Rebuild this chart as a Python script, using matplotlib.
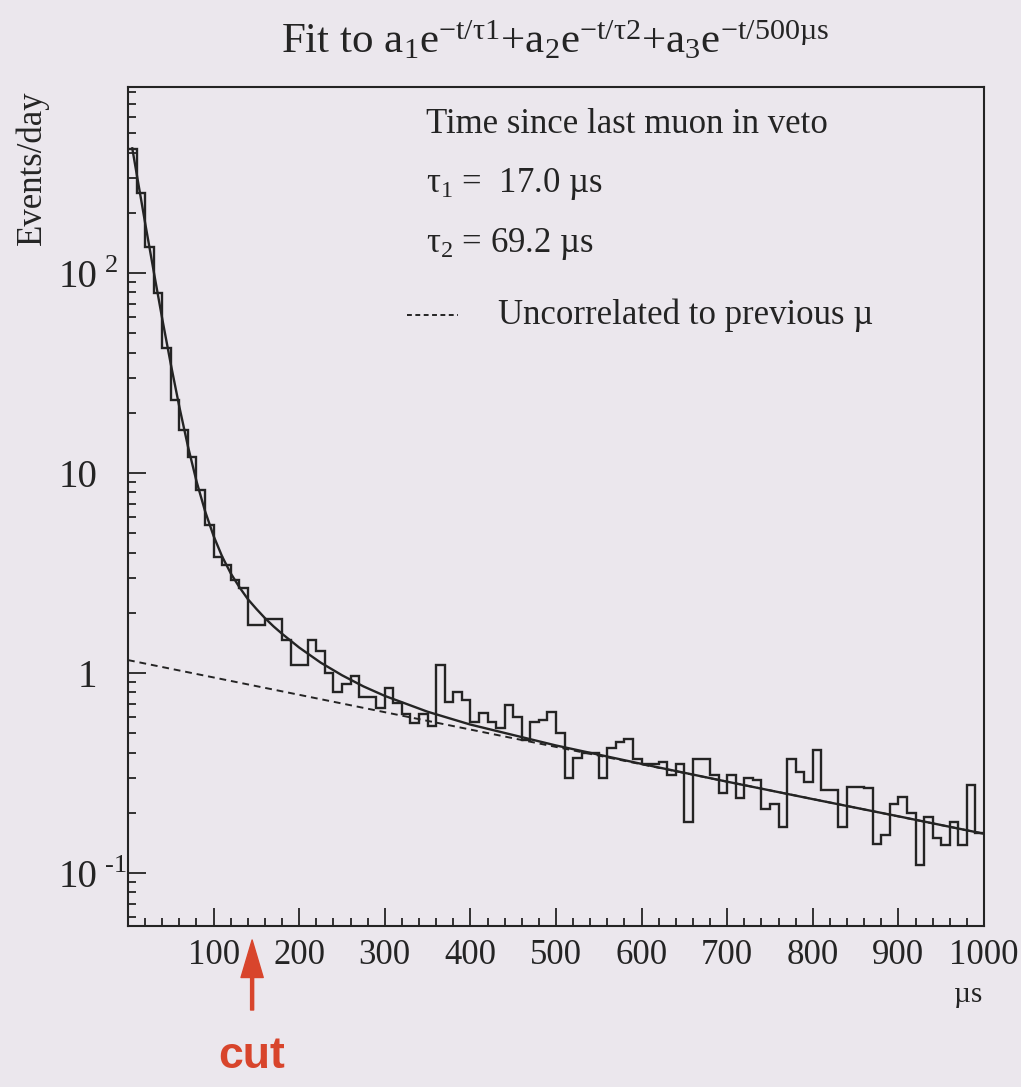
import matplotlib
matplotlib.use('Agg')
import matplotlib.pyplot as plt
import matplotlib.transforms as mtransforms
from matplotlib.ticker import FixedLocator, FixedFormatter, LogLocator, NullFormatter
import numpy as np

matplotlib.rcParams['font.family'] = 'Liberation Serif'
matplotlib.rcParams['mathtext.fontset'] = 'custom'
matplotlib.rcParams['mathtext.rm'] = 'Liberation Serif'
matplotlib.rcParams['mathtext.it'] = 'Liberation Serif:italic'
matplotlib.rcParams['mathtext.default'] = 'rm'

# histogram, 10 us bins from 0 to 1000 us (events/day)
bin_edges = np.arange(0, 1001, 10)
counts = [415, 250, 135, 79, 42, 23.3, 16.4, 12.0, 8.2, 5.5,
          3.8, 3.47, 2.92, 2.66, 1.74, 1.74, 1.86, 1.86, 1.46, 1.10,
          1.10, 1.46, 1.29, 1.00, 0.80, 0.88, 0.97, 0.76, 0.76, 0.67,
          0.84, 0.71, 0.62, 0.56, 0.62, 0.54, 1.10, 0.72, 0.80, 0.73,
          0.57, 0.63, 0.57, 0.53, 0.69, 0.60, 0.46, 0.57, 0.58, 0.64,
          0.50, 0.30, 0.376, 0.40, 0.40, 0.30, 0.42, 0.45, 0.47, 0.37,
          0.35, 0.35, 0.36, 0.31, 0.35, 0.18, 0.37, 0.37, 0.31, 0.25,
          0.31, 0.237, 0.30, 0.29, 0.21, 0.22, 0.17, 0.37, 0.32, 0.285,
          0.41, 0.26, 0.26, 0.17, 0.27, 0.27, 0.265, 0.14, 0.155, 0.22,
          0.24, 0.20, 0.11, 0.19, 0.15, 0.138, 0.18, 0.138, 0.275, 0.158]

# fitted curve
fit_t = [5, 10, 15, 20, 30, 40, 50, 60, 70, 80, 90, 100, 110, 120, 130,
         140, 150, 160, 170, 180, 200, 225, 250, 275, 300, 350, 400, 500,
         600, 700, 800, 900, 1000]
fit_y = [420, 315, 237, 178, 102, 59.0, 35.0, 21.4, 13.6, 9.1, 6.45, 4.84,
         3.82, 3.15, 2.69, 2.34, 2.09, 1.88, 1.71, 1.57, 1.34, 1.127, 0.974,
         0.857, 0.768, 0.640, 0.552, 0.434, 0.351, 0.286, 0.234, 0.192, 0.157]

# uncorrelated component (straight on log scale)
flat_t = [0, 1000]
flat_y = [1.16, 0.157]

cut_t = 145

ytick_vals = [0.1, 1, 10, 100]
ytick_text = ['10', '1', '10', '10']
ytick_exp = {0.1: '-1', 100: '2'}

bg = '#ebe7ed'
ink = '#242424'
red = '#d8452c'

fig = plt.figure(figsize=(10.21, 10.87), dpi=100, facecolor=bg)
ax = fig.add_axes([128 / 1021, 1 - 926 / 1087, (984 - 128) / 1021, (926 - 87) / 1087])
ax.set_facecolor(bg)

ax.stairs(counts, bin_edges, baseline=None, color=ink, lw=1.7)
ax.plot(fit_t, fit_y, color=ink, lw=1.7, zorder=3)
ax.plot(flat_t, flat_y, color=ink, lw=1.4, ls=(0, (3.5, 2.5)), zorder=3)

ax.set_yscale('log')
ax.set_xlim(0, 1000)
ax.set_ylim(0.0543, 851)

for s in ax.spines.values():
    s.set_linewidth(1.5)
    s.set_color(ink)

ax.set_xticks(np.arange(100, 1001, 100))
ax.set_xticks(np.arange(0, 1001, 20), minor=True)
ax.yaxis.set_major_locator(FixedLocator(ytick_vals))
ax.yaxis.set_major_formatter(FixedFormatter(ytick_text))
ax.yaxis.set_minor_locator(LogLocator(subs=np.arange(2, 10)))
ax.yaxis.set_minor_formatter(NullFormatter())
ax.tick_params(which='both', direction='in', top=False, right=False,
               color=ink, width=1.3, labelcolor=ink)
ax.tick_params(which='major', length=13)
ax.tick_params(which='minor', length=6)
ax.tick_params(axis='x', pad=9, labelsize=25)
ax.tick_params(axis='y', pad=22, labelsize=28)

# exponents sit just right of the "10", slightly raised
ylab_tr = mtransforms.blended_transform_factory(ax.transAxes, ax.transData)
for v, e in ytick_exp.items():
    ax.text(-0.027, v * 10 ** (7 / 200), e, transform=ylab_tr, fontsize=19,
            color=ink, ha='left', va='center')

fig.text(32 / 1021, 1 - 90 / 1087, 'Events/day', rotation=90, ha='center',
         va='top', fontsize=25, color=ink)
fig.text(968 / 1021, 1 - 995 / 1087, 'µs', ha='center', va='center',
         fontsize=21, color=ink)

fig.text(0.5436, 0.962,
         'Fit to a$_1$e$^{-t/τ1}$+a$_2$e$^{-t/τ2}$+a$_3$e$^{-t/500µs}$',
         ha='center', va='center', fontsize=31, color=ink)

ax.text(0.348, 0.955, 'Time since last muon in veto', transform=ax.transAxes,
        va='center', fontsize=25, color=ink)
ax.text(0.348, 0.884, '$τ_1$ =  17.0 µs', transform=ax.transAxes,
        va='center', fontsize=25, color=ink)
ax.text(0.348, 0.813, '$τ_2$ = 69.2 µs', transform=ax.transAxes,
        va='center', fontsize=25, color=ink)
ax.plot([0.3255, 0.385], [0.728, 0.728], transform=ax.transAxes, color=ink,
        lw=1.4, ls=(0, (2.5, 1.8)))
ax.text(0.432, 0.728, 'Uncorrelated to previous µ', transform=ax.transAxes,
        va='center', fontsize=25, color=ink)

# cut marker below the axis
cut_tr = mtransforms.blended_transform_factory(ax.transData, fig.transFigure)
ax.annotate('', xy=(cut_t, 1 - 940 / 1087), xytext=(cut_t, 1 - 1010 / 1087),
            xycoords=cut_tr, textcoords=cut_tr, annotation_clip=False,
            arrowprops=dict(width=2.2, headwidth=16, headlength=27,
                            color=red, shrink=0))
fig.text(cut_t, 1 - 1056 / 1087, 'cut', transform=cut_tr, ha='center',
         va='center', fontsize=32, fontweight='bold', color=red,
         family='Liberation Sans')

fig.savefig('out.png', dpi=100, facecolor=bg)
